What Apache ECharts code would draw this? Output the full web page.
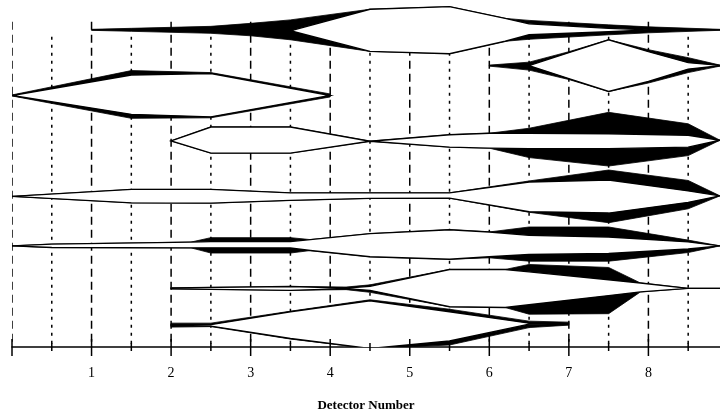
<!DOCTYPE html>
<html><head><meta charset="utf-8">
<script src="https://cdn.jsdelivr.net/npm/echarts@6/dist/echarts.min.js"></script>
<style>html,body{margin:0;padding:0;background:#fff}#c{width:720px;height:417px}</style>
</head><body><div id="c"></div>
<script>
// ---- axis data ----
const xMin = 0, xMax = 8.9;
const xTickValues = [0, 1, 2, 3, 4, 5, 6, 7, 8];
const xLabelValues = [1, 2, 3, 4, 5, 6, 7, 8];
const halfValues = [0.5, 1.5, 2.5, 3.5, 4.5, 5.5, 6.5, 7.5, 8.5];
const trackMin = 0, trackMax = 349;   // vertical track coordinate (hidden axis)
const dashTop = 22, dotTop = 37;      // where the detector boundary lines start

// ---- tracks: x nodes, upper-outer, upper-inner, lower-inner, lower-outer ----
const rowA_x  = [1, 1.5, 2.5, 3, 3.5, 4.5, 5.5, 6.2, 6.5, 7.5, 8, 8.9];
const rowA_uo = [29.5, 28.5, 26.5, 23.5, 20, 9.3, 6.7, 18.5, 20.5, 25, 27, 29.5];
const rowA_ui = [30, 30, 30, 30, 31, 9.3, 6.7, 18.5, 24, 28.5, 30, 30];
const rowA_li = [30, 30, 30, 30, 31, 51.7, 54, 41.5, 35, 32, 30, 30];
const rowA_lo = [30.5, 31.5, 33.5, 36, 40, 51.7, 54, 41.5, 39.5, 35, 33, 30.5];

const rowB_x  = [6, 6.5, 7, 7.5, 8, 8.5, 8.9];
const rowB_uo = [65.5, 62.5, 52, 40, 50, 58, 65.5];
const rowB_ui = [66, 66, 53, 40, 52, 63, 65.8];
const rowB_li = [66, 66, 79, 92, 82, 69.5, 66.2];
const rowB_lo = [66.5, 70.5, 80, 92, 83.5, 73, 66.5];

const rowC_x  = [0, 1.5, 2.5, 4];
const rowC_uo = [95.5, 71, 73, 94.5];
const rowC_ui = [96, 75.5, 74, 96];
const rowC_li = [96, 115, 117.5, 96];
const rowC_lo = [96.5, 119, 118.5, 97.5];

const rowD_x  = [2, 2.5, 3.5, 4.5, 5.5, 6, 6.5, 7.5, 8.5, 8.9];
const rowD_uo = [141.7, 127.7, 127.7, 142, 135.5, 134, 129, 113, 124.5, 141];
const rowD_ui = [141.7, 127.7, 127.7, 142, 135.5, 134, 134, 134.5, 136, 141];
const rowD_li = [141.7, 154, 154, 142, 148, 149, 149.5, 149.5, 148, 141];
const rowD_lo = [141.7, 154, 154, 142, 148, 149, 158.5, 167, 156.5, 141];

const rowE_x  = [0, 1.5, 2.5, 3.5, 4.5, 5.5, 6.5, 7.5, 8.5, 8.9];
const rowE_uo = [197.5, 190.5, 190.5, 194, 194, 194, 182, 171, 181.5, 197];
const rowE_ui = [197.5, 190.5, 190.5, 194, 194, 194, 183, 181, 192, 197];
const rowE_li = [197.5, 204, 204.3, 201.5, 199.5, 199.3, 213, 214.3, 203.5, 197];
const rowE_lo = [197.5, 204, 204.3, 201.5, 199.5, 199.3, 213.5, 224, 210, 197];

const rowF_x  = [0, 0.5, 2.25, 2.5, 3.5, 3.75, 4.5, 5.5, 6, 6.5, 7.5, 8.5, 8.9];
const rowF_uo = [247.3, 245.5, 243.5, 239, 239, 241, 235, 231, 233.3, 228.3, 228.3, 241.5, 247.3];
const rowF_ui = [247.3, 245.5, 243.5, 243, 243, 241, 235, 231, 233.3, 236.7, 238.3, 243.3, 247.3];
const rowF_li = [247.3, 249, 249.3, 249.3, 249.5, 252, 258.3, 260.7, 258.3, 256, 255, 250.5, 247.3];
const rowF_lo = [247.3, 249, 249.3, 254.5, 254.5, 252, 258.3, 260.7, 259.3, 262.7, 262.7, 254, 247.3];

const rowG_x  = [2, 3.5, 4.2, 4.5, 5.5, 6.2, 6.5, 7.5, 7.9, 8.5, 8.9];
const rowG_uo = [289.5, 288.2, 288.7, 286.5, 271, 271, 266, 269, 284.6, 290, 290];
const rowG_ui = [289.5, 288.2, 289.7, 288, 271, 271, 273.4, 281.4, 284.6, 290, 290];
const rowG_li = [290.5, 292, 290.3, 292, 308.5, 309.3, 306.5, 297.3, 293.6, 290, 290];
const rowG_lo = [290.5, 292, 291.3, 294, 308.5, 309.3, 316, 315.5, 293.6, 290, 290];

const rowH_x  = [2, 2.5, 3.5, 4.5, 5.5, 6.5, 7];
const rowH_uo = [325, 325, 313, 301.5, 311, 323, 324];
const rowH_ui = [326.5, 326.5, 313.5, 302.5, 313.5, 325, 325.5];
const rowH_li = [327.5, 328, 340.5, 350.5, 343, 326, 325.5];
const rowH_lo = [329, 328.5, 341, 350.5, 347, 329.5, 327];

const rows = [
  [rowA_x, rowA_uo, rowA_ui, rowA_li, rowA_lo],
  [rowB_x, rowB_uo, rowB_ui, rowB_li, rowB_lo],
  [rowC_x, rowC_uo, rowC_ui, rowC_li, rowC_lo],
  [rowD_x, rowD_uo, rowD_ui, rowD_li, rowD_lo],
  [rowE_x, rowE_uo, rowE_ui, rowE_li, rowE_lo],
  [rowF_x, rowF_uo, rowF_ui, rowF_li, rowF_lo],
  [rowG_x, rowG_uo, rowG_ui, rowG_li, rowG_lo],
  [rowH_x, rowH_uo, rowH_ui, rowH_li, rowH_lo]
];

const chart = echarts.init(document.getElementById('c'), null, {renderer: 'canvas'});

function vline(top, dash, width) {
  return function (params, api) {
    const x = api.value(0);
    const a = api.coord([x, top]);
    const b = api.coord([x, trackMax]);
    return {type: 'line', shape: {x1: a[0], y1: a[1], x2: b[0], y2: b[1]},
      style: {stroke: '#000', lineWidth: width, lineDash: dash}};
  };
}
function tick(up, down) {
  return function (params, api) {
    const p = api.coord([api.value(0), trackMax]);
    return {type: 'line', shape: {x1: p[0], y1: p[1] - up, x2: p[0], y2: p[1] + down},
      style: {stroke: '#000', lineWidth: 1.5}};
  };
}
function renderRow(params, api) {
  const r = rows[params.dataIndex];
  const xs = r[0];
  const up = xs.map((x, i) => api.coord([x, r[1][i]]));
  const lo = xs.map((x, i) => api.coord([x, r[4][i]])).reverse();
  const ui = xs.map((x, i) => api.coord([x, r[2][i]]));
  const li = xs.map((x, i) => api.coord([x, r[3][i]])).reverse();
  return {type: 'group', children: [
    {type: 'polygon', shape: {points: up.concat(lo)}, style: {fill: '#000', stroke: '#000', lineWidth: 0.8, lineJoin: 'round'}},
    {type: 'polygon', shape: {points: ui.concat(li)}, style: {fill: '#fff', stroke: '#000', lineWidth: 1.4, lineJoin: 'miter'}}
  ]};
}

chart.setOption({
  animation: false,
  backgroundColor: '#fff',
  grid: {left: 12, right: 0, top: 0, bottom: 68, containLabel: false},
  xAxis: {
    type: 'value', min: xMin, max: xMax, interval: 1,
    axisLine: {show: true, onZero: false, lineStyle: {color: '#000', width: 1.5}},
    axisTick: {show: false},
    splitLine: {show: false},
    axisLabel: {
      customValues: xLabelValues,
      formatter: v => (Number.isInteger(v) && v >= 1 && v <= 8) ? String(v) : '',
      color: '#000', fontFamily: 'Liberation Serif', fontSize: 14, margin: 19
    },
    name: 'Detector Number', nameLocation: 'middle', nameGap: 52,
    nameTextStyle: {color: '#000', fontFamily: 'Liberation Serif', fontWeight: 'bold', fontSize: 13}
  },
  yAxis: {type: 'value', inverse: true, min: trackMin, max: trackMax, show: false},
  series: [
    {type: 'custom', clip: true, z: 1, silent: true, data: xTickValues.map(v => [v, trackMax]), renderItem: vline(dashTop, [8, 5], 1.5)},
    {type: 'custom', clip: true, z: 1, silent: true, data: halfValues.map(v => [v, trackMax]), renderItem: vline(dotTop, [3, 5], 1.5)},
    {type: 'custom', clip: false, z: 3, silent: true, data: xTickValues.map(v => [v, trackMax]), renderItem: tick(8, 9)},
    {type: 'custom', clip: false, z: 3, silent: true, data: halfValues.map(v => [v, trackMax]), renderItem: tick(4, 4)},
    {type: 'custom', clip: true, z: 2, silent: true, data: rows.map(r => [r[0][0], r[1][0]]), renderItem: renderRow}
  ]
});
</script></body></html>
